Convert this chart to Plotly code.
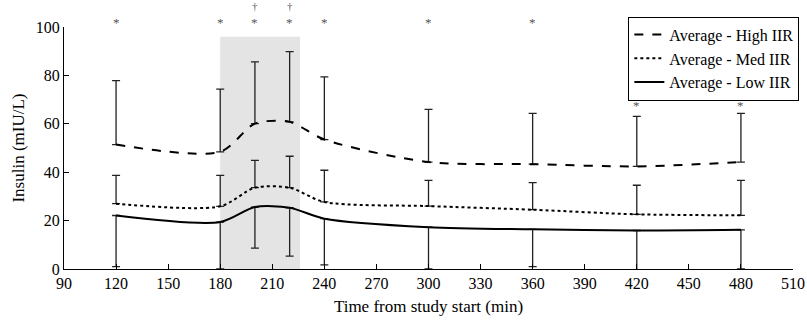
import plotly.graph_objects as go

time_min = [120, 180, 200, 220, 240, 300, 360, 420, 480]

high_mean = [51.4, 48.4, 60.1, 60.8, 53.5, 44.2, 43.3, 42.4, 44.2]
high_plus = [26.4, 25.9, 25.5, 29.0, 25.9, 21.8, 21.0, 20.7, 20.1]

med_mean = [27.0, 25.9, 33.6, 33.6, 27.7, 26.0, 24.5, 22.6, 22.2]
med_plus = [11.7, 12.8, 11.3, 13.0, 13.1, 10.6, 11.2, 12.0, 14.4]

low_mean = [22.1, 19.4, 25.6, 25.3, 20.8, 17.3, 16.4, 15.9, 16.2]
low_minus = [21.1, 19.4, 17.0, 20.0, 19.1, 17.3, 15.4, 16.8, 16.2]

star_x = [120, 180, 200, 220, 240, 300, 360, 420, 480]
star_y = [102.0, 102.0, 102.0, 102.0, 102.0, 102.0, 102.0, 67.5, 67.5]
dagger_x = [200, 220]
dagger_y = [108.5, 108.5]

x_ticks = [90, 120, 150, 180, 210, 240, 270, 300, 330, 360, 390, 420, 450, 480, 510]
y_ticks = [0, 20, 40, 60, 80, 100]
y_range = [0, 100]
shade_x = [180, 226]
shade_y = [0, 96]

FONT = "Liberation Serif, Times New Roman, serif"
BAR = "#222222"
MARK = "#555555"

fig = go.Figure()

fig.add_trace(go.Scatter(
    x=time_min, y=high_mean, mode="lines", name="Average - High IIR",
    line=dict(color="black", width=2, dash="dash", shape="spline", smoothing=0.8),
    error_y=dict(type="data", array=high_plus, arrayminus=[0] * len(high_plus),
                 symmetric=False, color=BAR, thickness=1.3, width=4),
))
fig.add_trace(go.Scatter(
    x=time_min, y=med_mean, mode="lines", name="Average - Med IIR",
    line=dict(color="black", width=2, dash="dot", shape="spline", smoothing=0.8),
    error_y=dict(type="data", array=med_plus, arrayminus=[0] * len(med_plus),
                 symmetric=False, color=BAR, thickness=1.3, width=4),
))
fig.add_trace(go.Scatter(
    x=time_min, y=low_mean, mode="lines", name="Average - Low IIR",
    line=dict(color="black", width=2, dash="solid", shape="spline", smoothing=0.8),
    error_y=dict(type="data", array=[0] * len(low_minus), arrayminus=low_minus,
                 symmetric=False, color=BAR, thickness=1.3, width=4),
))

def to_paper(v):
    return (v - y_range[0]) / (y_range[1] - y_range[0])

for xs, ys in zip(star_x, star_y):
    fig.add_annotation(x=xs, y=to_paper(ys), xref="x", yref="paper", text="*",
                       showarrow=False, yanchor="middle",
                       font=dict(family=FONT, size=13, color=MARK))
for xs, ys in zip(dagger_x, dagger_y):
    fig.add_annotation(x=xs, y=to_paper(ys), xref="x", yref="paper", text="†",
                       showarrow=False, yanchor="middle",
                       font=dict(family=FONT, size=11, color=MARK))

fig.add_shape(type="rect", xref="x", yref="y", x0=shade_x[0], x1=shade_x[1],
              y0=shade_y[0], y1=shade_y[1], fillcolor="#e4e4e4",
              line=dict(width=0), layer="below")

fig.update_layout(
    width=807, height=326,
    margin=dict(l=64, r=14, t=27, b=57, autoexpand=False),
    paper_bgcolor="white", plot_bgcolor="white",
    font=dict(family=FONT, size=17, color="black"),
    showlegend=True,
    legend=dict(
        x=1.0087, xanchor="right", y=1.043, yanchor="top",
        bgcolor="white", bordercolor="black", borderwidth=1,
        font=dict(family=FONT, size=16, color="black"),
        tracegroupgap=0, itemwidth=30,
    ),
    xaxis=dict(
        range=[90, 510], tickvals=x_ticks, ticktext=[str(v) for v in x_ticks],
        showline=True, linecolor="black", linewidth=1,
        ticks="inside", ticklen=5, tickcolor="black",
        showgrid=False, zeroline=False, automargin=False,
        tickfont=dict(family=FONT, size=16),
        title=dict(text="Time from study start (min)", font=dict(family=FONT, size=17), standoff=8),
    ),
    yaxis=dict(
        range=y_range, tickvals=y_ticks,
        showline=True, linecolor="black", linewidth=1,
        ticks="inside", ticklen=5, tickcolor="black",
        showgrid=False, zeroline=False, automargin=False,
        tickfont=dict(family=FONT, size=16),
        title=dict(text="Insulin (mIU/L)", font=dict(family=FONT, size=17), standoff=6),
    ),
)

fig.write_html("out.html", config={"displayModeBar": False},
               post_script="document.body.style.margin='0';")
